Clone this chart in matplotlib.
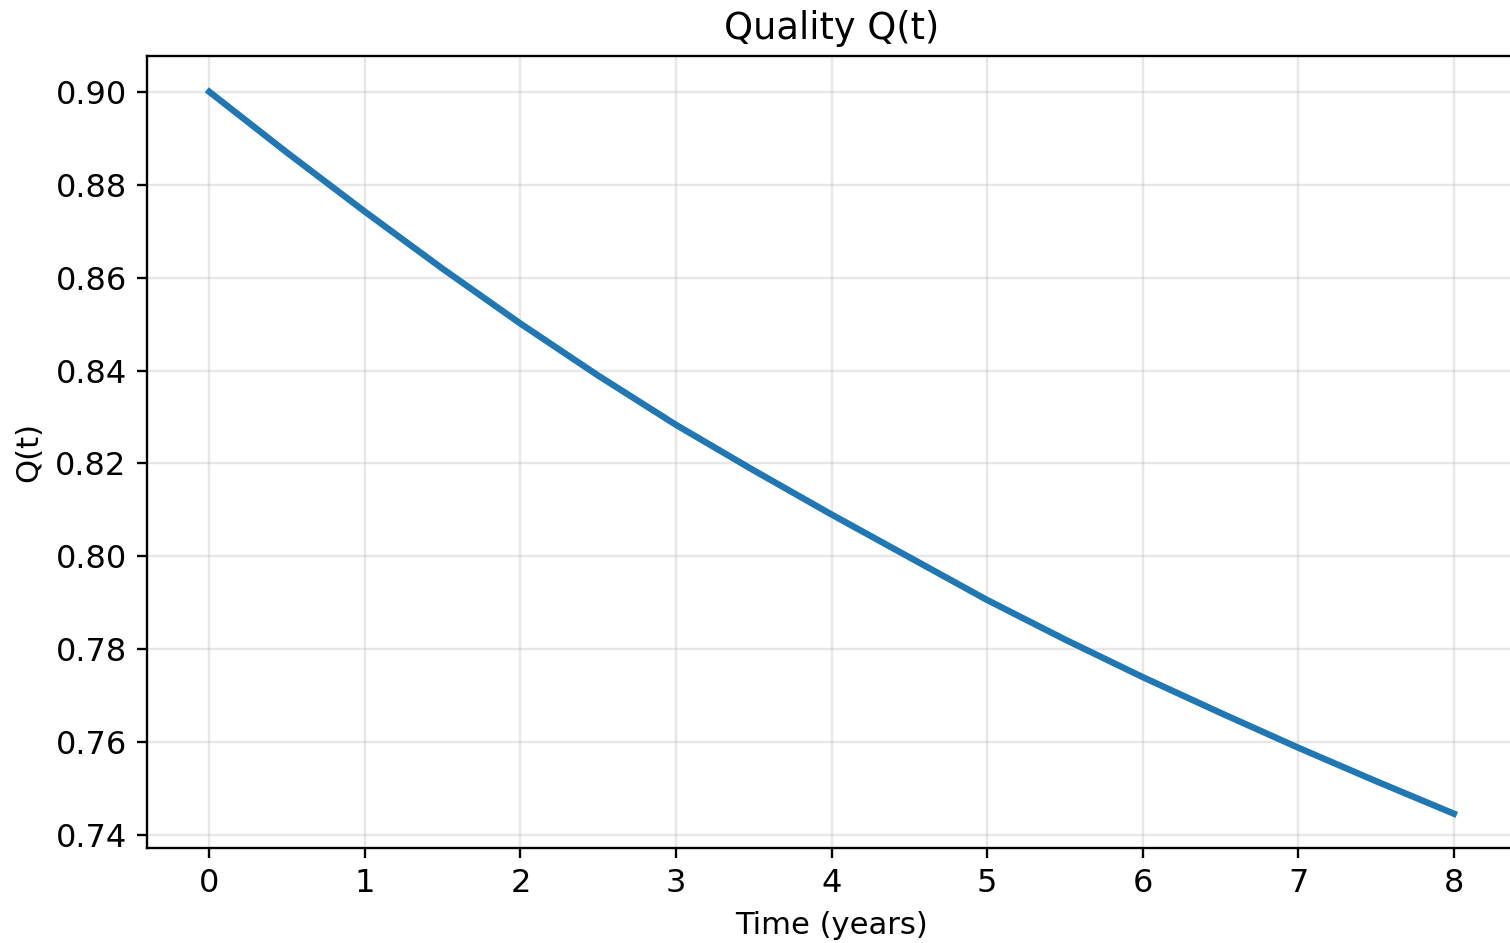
import numpy as np
from matplotlib import pyplot as plt

# Values (half-year steps)
time_years = [0.0, 0.5, 1.0, 1.5, 2.0, 2.5, 3.0, 3.5, 4.0,
              4.5, 5.0, 5.5, 6.0, 6.5, 7.0, 7.5, 8.0]
quality = [0.9000, 0.8869, 0.8742, 0.8619, 0.8501, 0.8389, 0.8283, 0.8185, 0.8090,
           0.7998, 0.7906, 0.7821, 0.7740, 0.7663, 0.7588, 0.7516, 0.7446]

DPI = 210
fig = plt.figure(figsize=(1510 / DPI, 943 / DPI), dpi=DPI)
ax = fig.add_axes([0.0974, 0.1007, 0.9066, 0.8399])

ax.plot(time_years, quality, color="#1f77b4", linewidth=2.2)

ax.set_title("Quality Q(t)", fontsize=12.6)
ax.set_xlabel("Time (years)", fontsize=10.5)
ax.set_ylabel("Q(t)", fontsize=10.5)
ax.set_xticks(range(0, 9))
ax.set_yticks([0.74, 0.76, 0.78, 0.80, 0.82, 0.84, 0.86, 0.88, 0.90])
ax.tick_params(labelsize=11)
ax.set_ylim(0.7372, 0.9077)
ax.grid(True, alpha=0.3)

fig.savefig("out.png", dpi=DPI)
